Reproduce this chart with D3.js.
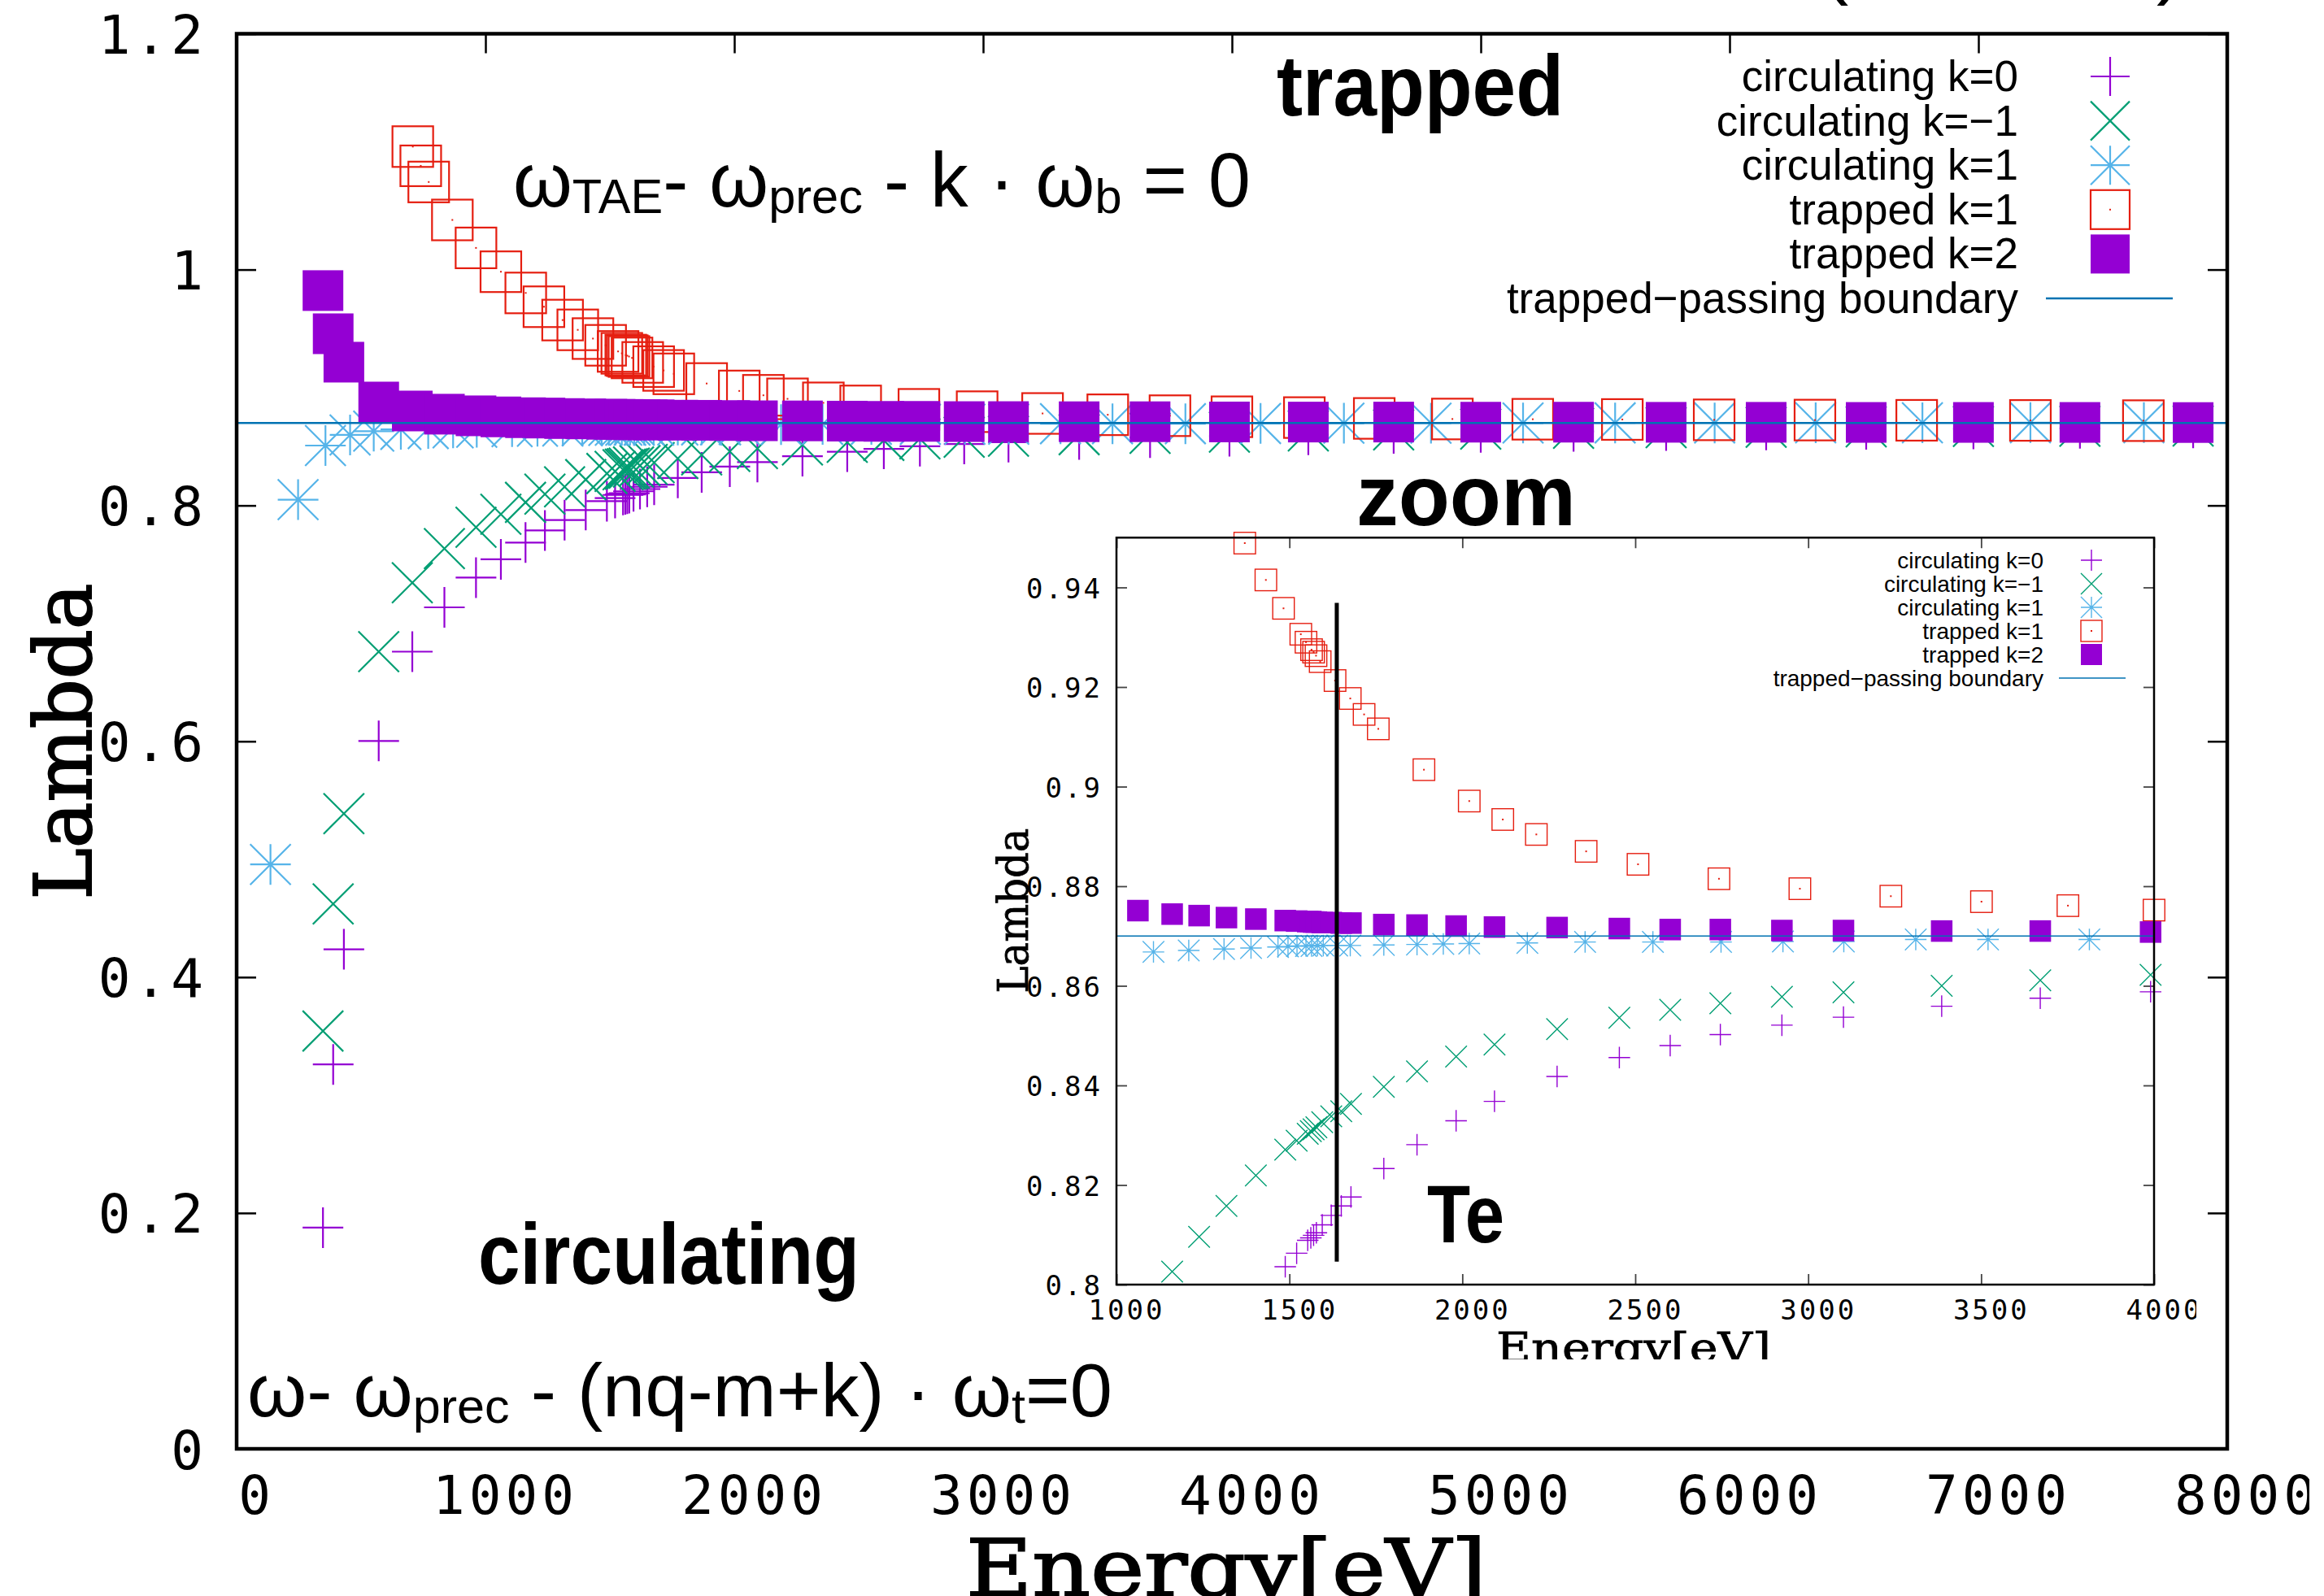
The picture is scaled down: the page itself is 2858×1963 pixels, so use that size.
<!DOCTYPE html>
<html><head><meta charset="utf-8">
<script src="https://cdn.jsdelivr.net/npm/d3@7"></script>
<style>body{margin:0;background:#fff} svg{display:block} text{white-space:pre}</style>
</head><body>
<svg id="c" width="2858" height="1963"></svg>
<script>
// ---------------- DATA ----------------
// Energy grid (eV) shared by circulating k=0, circulating k=-1 and trapped k=2
const gridEnergy = [347, 388, 431, 571, 706, 835, 962, 1062, 1161, 1239, 1318, 1403, 1488, 1521, 1553, 1562, 1570, 1578, 1595, 1621, 1650, 1678, 1773, 1869, 1982, 2093, 2274, 2454, 2601, 2746, 2924, 3102, 3386, 3671, 3990, 4307, 4650, 5000, 5373, 5745, 6147, 6549, 6980, 7408, 7863];
const circK0 = [0.1876, 0.326, 0.4236, 0.6003, 0.676, 0.7136, 0.7388, 0.7543, 0.7685, 0.7788, 0.7876, 0.7961, 0.8036, 0.8063, 0.8089, 0.8094, 0.8099, 0.8104, 0.8120, 0.8139, 0.8158, 0.8176, 0.8233, 0.8281, 0.8329, 0.8368, 0.8418, 0.8456, 0.8480, 0.8502, 0.8521, 0.8537, 0.8559, 0.8575, 0.8588, 0.8600, 0.8611, 0.8620, 0.8628, 0.8635, 0.8641, 0.8646, 0.8650, 0.8654, 0.8657];
const circKm1 = [0.3543, 0.4621, 0.5387, 0.6760, 0.7345, 0.7634, 0.7815, 0.7925, 0.8026, 0.8096, 0.8158, 0.8219, 0.8271, 0.8289, 0.8303, 0.8308, 0.8312, 0.8316, 0.8326, 0.8338, 0.8348, 0.8363, 0.8397, 0.8428, 0.8458, 0.8482, 0.8513, 0.8536, 0.8552, 0.8565, 0.8578, 0.8587, 0.8600, 0.8611, 0.8622, 0.8632, 0.8641, 0.8648, 0.8654, 0.8659, 0.8663, 0.8667, 0.8670, 0.8672, 0.8674];
const trapK2 = [0.9822, 0.9456, 0.9215, 0.8877, 0.8801, 0.8774, 0.8760, 0.8751, 0.8744, 0.8741, 0.8737, 0.8734, 0.8731, 0.8730, 0.8729, 0.8729, 0.8728, 0.8728, 0.8727, 0.8727, 0.8726, 0.8726, 0.8723, 0.8722, 0.8720, 0.8718, 0.8717, 0.8715, 0.8713, 0.8713, 0.8711, 0.8711, 0.8710, 0.8710, 0.8708, 0.8707, 0.8707, 0.8706, 0.8706, 0.8705, 0.8705, 0.8704, 0.8704, 0.8704, 0.8703];
// circulating k=1
const circK1Energy = [136, 247, 357, 456, 551, 660, 770, 870, 965, 1107, 1209, 1311, 1389, 1467, 1496, 1522, 1548, 1564, 1581, 1598, 1638, 1676, 1773, 1869, 1945, 2020, 2188, 2355, 2551, 2748, 2927, 3103, 3311, 3520, 3813, 4115, 4450, 4800, 5170, 5540, 5940, 6346, 6775, 7209, 7665];
const circK1 = [0.4956, 0.8049, 0.8508, 0.8598, 0.8630, 0.8645, 0.8652, 0.8658, 0.8663, 0.8668, 0.8671, 0.8674, 0.8676, 0.8678, 0.8679, 0.8680, 0.8680, 0.8680, 0.8681, 0.8681, 0.8681, 0.8681, 0.8682, 0.8683, 0.8684, 0.8685, 0.8686, 0.8688, 0.8688, 0.8688, 0.8689, 0.8689, 0.8693, 0.8693, 0.8693, 0.8695, 0.8697, 0.8698, 0.8699, 0.8700, 0.8700, 0.8701, 0.8701, 0.8702, 0.8702];
// trapped k=1
const trapK1Energy = [708, 740, 772, 867, 962, 1062, 1162, 1235, 1310, 1371, 1432, 1483, 1533, 1548, 1564, 1570, 1577, 1589, 1632, 1676, 1716, 1757, 1889, 2020, 2117, 2214, 2358, 2508, 2742, 2976, 3239, 3501, 3751, 4000, 4291, 4572, 4886, 5209, 5569, 5938, 6343, 6752, 7209, 7663];
const trapK1 = [1.1043, 1.0880, 1.0743, 1.0421, 1.0184, 0.9982, 0.9802, 0.9685, 0.9572, 0.9489, 0.9415, 0.9358, 0.9306, 0.9290, 0.9275, 0.9270, 0.9263, 0.9251, 0.9213, 0.9177, 0.9145, 0.9116, 0.9034, 0.8971, 0.8934, 0.8904, 0.8870, 0.8844, 0.8815, 0.8795, 0.8780, 0.8769, 0.8761, 0.8752, 0.8745, 0.8738, 0.8733, 0.8731, 0.8729, 0.8726, 0.8724, 0.8722, 0.8721, 0.8719];
const boundaryLambda = 0.87;
const teEnergy = 1637;
const teLambdaRange = [0.8046, 0.9369];
const legendLabels = ["circulating k=0", "circulating k=\u22121", "circulating k=1", "trapped k=1", "trapped k=2", "trapped\u2212passing boundary"];
const mainXTicks = [0, 1000, 2000, 3000, 4000, 5000, 6000, 7000, 8000];
const mainYTicks = [0, 0.2, 0.4, 0.6, 0.8, 1.0, 1.2];
const insetXTicks = [1000, 1500, 2000, 2500, 3000, 3500, 4000];
const insetYTicks = [0.8, 0.82, 0.84, 0.86, 0.88, 0.9, 0.92, 0.94];
const mainXDomain = [0, 8000], mainYDomain = [0, 1.2];
const insetXDomain = [1000, 4000], insetYDomain = [0.8, 0.95];

// ---------------- SETUP ----------------
const svg = d3.select('#c');
svg.append('rect').attr('width', 2858).attr('height', 1963).attr('fill', '#fff');
const defs = svg.append('defs');
defs.append('clipPath').attr('id', 'clipMainLabels').append('rect').attr('x', 0).attr('y', 0).attr('width', 2840).attr('height', 1963);
defs.append('clipPath').attr('id', 'clipInset').append('rect').attr('x', 1100).attr('y', 600).attr('width', 1601).attr('height', 1072);

const series = [
  {label: legendLabels[0], E: gridEnergy, L: circK0, shape: 'plus', color: '#9400d3'},
  {label: legendLabels[1], E: gridEnergy, L: circKm1, shape: 'cross', color: '#009e73'},
  {label: legendLabels[2], E: circK1Energy, L: circK1, shape: 'star', color: '#56b4e9'},
  {label: legendLabels[3], E: trapK1Energy, L: trapK1, shape: 'box', color: '#e51e10'},
  {label: legendLabels[4], E: gridEnergy, L: trapK2, shape: 'filled', color: '#9400d3'}
];
const boundaryColor = '#0072b2';

function shapePath(shape, h) {
  const p = `M${-h},0H${h}M0,${-h}V${h}`;
  const xx = `M${-h},${-h}L${h},${h}M${-h},${h}L${h},${-h}`;
  if (shape === 'plus') return p;
  if (shape === 'cross') return xx;
  if (shape === 'star') return p + xx;
  return '';
}

function drawSymbols(g, shape, color, pts, size, sw) {
  const h = size / 2;
  if (shape === 'filled') {
    g.selectAll(null).data(pts).join('rect')
      .attr('x', d => d[0] - h).attr('y', d => d[1] - h)
      .attr('width', size).attr('height', size).attr('fill', color);
  } else if (shape === 'box') {
    g.selectAll(null).data(pts).join('rect')
      .attr('x', d => d[0] - h).attr('y', d => d[1] - h)
      .attr('width', size).attr('height', size)
      .attr('fill', 'none').attr('stroke', color).attr('stroke-width', sw);
    g.selectAll(null).data(pts).join('rect')
      .attr('x', d => d[0] - 1).attr('y', d => d[1] - 1)
      .attr('width', 2).attr('height', 2).attr('fill', color);
  } else {
    g.selectAll(null).data(pts).join('path')
      .attr('d', shapePath(shape, h))
      .attr('transform', d => `translate(${d[0]},${d[1]})`)
      .attr('fill', 'none').attr('stroke', color).attr('stroke-width', sw);
  }
}

function fitWidth(sel, x0, target) {
  const w = sel.node().getBBox().width;
  const s = target / w;
  sel.attr('transform', `translate(${x0},0) scale(${s},1) translate(${-x0},0)`);
}

function richText(parent, x, y, parts, size, subSize, subDy, weight) {
  const t = parent.append('text').attr('x', x).attr('y', y)
    .attr('font-family', 'Liberation Sans').attr('font-size', size)
    .attr('font-weight', weight || 'normal').attr('fill', '#000');
  let cur = 0;
  parts.forEach(([s, sub]) => {
    const target = sub ? subDy : 0;
    t.append('tspan').attr('font-size', sub ? subSize : size).attr('dy', target - cur).text(s);
    cur = target;
  });
  return t;
}

function plotSeries(g, xs, ys, size, sw, xdom, ydom) {
  series.forEach(s => {
    const pts = s.E.map((e, i) => [e, s.L[i]])
      .filter(d => d[0] >= xdom[0] && d[0] <= xdom[1] && d[1] >= ydom[0] && d[1] <= ydom[1])
      .map(d => [xs(d[0]), ys(d[1])]);
    drawSymbols(g.append('g'), s.shape, s.color, pts, size, sw);
  });
}

function axisTitle(parent, text, size, sw) {
  return parent.append('text').attr('font-family', 'DejaVu Serif').attr('font-weight', 'normal')
    .attr('font-size', size).attr('text-anchor', 'middle').attr('fill', '#000')
    .attr('stroke', '#000').attr('stroke-width', sw).text(text);
}

// ---------------- MAIN PLOT ----------------
const x = d3.scaleLinear().domain(mainXDomain).range([291, 2739]);
const y = d3.scaleLinear().domain(mainYDomain).range([1782, 41.5]);
const main = svg.append('g');

plotSeries(main, x, y, 50, 2.2, mainXDomain, mainYDomain);
main.append('line').attr('x1', x(mainXDomain[0])).attr('x2', x(mainXDomain[1]))
  .attr('y1', y(boundaryLambda)).attr('y2', y(boundaryLambda))
  .attr('stroke', boundaryColor).attr('stroke-width', 2.5);

const tickFmtMain = d => String(+d.toFixed(1));
const gxb = main.append('g').attr('transform', `translate(0,${y(0)})`).attr('clip-path', 'url(#clipMainLabels)')
  .call(d3.axisBottom(x).tickValues(mainXTicks).tickSizeInner(-24).tickSizeOuter(0).tickFormat(d3.format('d')));
const gxt = main.append('g').attr('transform', `translate(0,${y(1.2)})`)
  .call(d3.axisTop(x).tickValues(mainXTicks).tickSizeInner(-24).tickSizeOuter(0).tickFormat(''));
const gyl = main.append('g').attr('transform', `translate(${x(0)},0)`)
  .call(d3.axisLeft(y).tickValues(mainYTicks).tickSizeInner(-24).tickSizeOuter(0).tickFormat(tickFmtMain));
const gyr = main.append('g').attr('transform', `translate(${x(8000)},0)`)
  .call(d3.axisRight(y).tickValues(mainYTicks).tickSizeInner(-24).tickSizeOuter(0).tickFormat(''));
[gxb, gxt, gyl, gyr].forEach(g => {
  g.select('.domain').remove();
  g.selectAll('line').attr('stroke', '#000').attr('stroke-width', 2.5);
});
gxb.selectAll('text').attr('font-family', 'DejaVu Sans Mono').attr('font-size', 66)
  .attr('letter-spacing', 5).attr('fill', '#000').attr('dy', 0).attr('y', 80).attr('x', 24);
gyl.selectAll('text').attr('font-family', 'DejaVu Sans Mono').attr('font-size', 66)
  .attr('letter-spacing', 5).attr('fill', '#000').attr('dy', 24).attr('x', -36);

main.append('rect').attr('x', x(0)).attr('y', y(1.2)).attr('width', x(8000) - x(0)).attr('height', y(0) - y(1.2))
  .attr('fill', 'none').attr('stroke', '#000').attr('stroke-width', 4.5);

// axis titles
const lamMain = axisTitle(main, 'Lambda', 97, 2);
{
  const w = lamMain.node().getBBox().width;
  lamMain.attr('transform', `translate(112,912) rotate(-90) scale(${389 / w},1)`);
}
const enMain = axisTitle(main, 'Energy[eV]', 97, 2);
{
  const w = enMain.node().getBBox().width;
  enMain.attr('transform', `translate(1508,1963) scale(${640 / w},1)`);
}

// legend (main)
const legMain = main.append('g');
series.forEach((s, i) => {
  const cy = 94 + i * 54.6;
  legMain.append('text').attr('x', 2482).attr('y', cy + 18).attr('text-anchor', 'end')
    .attr('font-family', 'Liberation Sans').attr('font-size', 53).attr('fill', '#000').text(s.label);
  drawSymbols(legMain.append('g'), s.shape, s.color, [[2595, cy]], 48, 2.2);
});
{
  const cy = 94 + 5 * 54.6;
  legMain.append('text').attr('x', 2482).attr('y', cy + 18).attr('text-anchor', 'end')
    .attr('font-family', 'Liberation Sans').attr('font-size', 53).attr('fill', '#000').text(legendLabels[5]);
  legMain.append('line').attr('x1', 2516).attr('x2', 2672).attr('y1', cy).attr('y2', cy)
    .attr('stroke', boundaryColor).attr('stroke-width', 2.5);
}

// annotations
const tTrapped = main.append('text').attr('x', 1570).attr('y', 142).attr('font-family', 'Liberation Sans')
  .attr('font-weight', 'bold').attr('font-size', 106).attr('fill', '#000').text('trapped');
fitWidth(tTrapped, 1570, 353);
const tZoom = main.append('text').attr('x', 1668).attr('y', 646).attr('font-family', 'Liberation Sans')
  .attr('font-weight', 'bold').attr('font-size', 106).attr('fill', '#000').text('zoom');
fitWidth(tZoom, 1668, 270);
const tCirc = main.append('text').attr('x', 588).attr('y', 1579).attr('font-family', 'Liberation Sans')
  .attr('font-weight', 'bold').attr('font-size', 106).attr('fill', '#000').text('circulating');
fitWidth(tCirc, 588, 469);
const f1 = richText(main, 631, 254, [['\u03c9', 0], ['TAE', 1], ['- \u03c9', 0], ['prec', 1], [' - k \u00b7 \u03c9', 0], ['b', 1], [' = 0', 0]], 94, 60, 8);
fitWidth(f1, 631, 907);
const f2 = richText(main, 304, 1742, [['\u03c9- \u03c9', 0], ['prec', 1], [' - (nq-m+k) \u00b7 \u03c9', 0], ['t', 1], ['=0', 0]], 92, 60, 8);
fitWidth(f2, 304, 1064);
// cut-off title brackets at top edge
main.append('text').attr('x', 2240).attr('y', -14).attr('font-family', 'Liberation Sans').attr('font-size', 100).text('(');
main.append('text').attr('x', 2652).attr('y', -14).attr('font-family', 'Liberation Sans').attr('font-size', 100).text(')');

// ---------------- INSET ----------------
const xi = d3.scaleLinear().domain(insetXDomain).range([1373, 2649]);
const yi = d3.scaleLinear().domain(insetYDomain).range([1580, 661.25]);
const inset = svg.append('g').attr('clip-path', 'url(#clipInset)');

const ixb = inset.append('g').attr('transform', `translate(0,${yi(0.8)})`)
  .call(d3.axisBottom(xi).tickValues(insetXTicks).tickSizeInner(-13).tickSizeOuter(0).tickFormat(d3.format('d')));
const ixt = inset.append('g').attr('transform', `translate(0,${yi(0.95)})`)
  .call(d3.axisTop(xi).tickValues(insetXTicks).tickSizeInner(-13).tickSizeOuter(0).tickFormat(''));
const iyl = inset.append('g').attr('transform', `translate(${xi(1000)},0)`)
  .call(d3.axisLeft(yi).tickValues(insetYTicks).tickSizeInner(-13).tickSizeOuter(0).tickFormat(d => String(+d.toFixed(2))));
const iyr = inset.append('g').attr('transform', `translate(${xi(4000)},0)`)
  .call(d3.axisRight(yi).tickValues(insetYTicks).tickSizeInner(-13).tickSizeOuter(0).tickFormat(''));
[ixb, ixt, iyl, iyr].forEach(g => {
  g.select('.domain').remove();
  g.selectAll('line').attr('stroke', '#444').attr('stroke-width', 1.8);
});
ixb.selectAll('text').attr('font-family', 'DejaVu Sans Mono').attr('font-size', 34)
  .attr('letter-spacing', 3).attr('fill', '#000').attr('dy', 0).attr('y', 43).attr('x', 12);
iyl.selectAll('text').attr('font-family', 'DejaVu Sans Mono').attr('font-size', 34)
  .attr('letter-spacing', 3).attr('fill', '#000').attr('dy', 12.5).attr('x', -17);

plotSeries(inset, xi, yi, 26.5, 1.4, insetXDomain, insetYDomain);
inset.append('line').attr('x1', xi(1000)).attr('x2', xi(4000))
  .attr('y1', yi(boundaryLambda)).attr('y2', yi(boundaryLambda))
  .attr('stroke', boundaryColor).attr('stroke-width', 1.6);

inset.append('rect').attr('x', xi(1000)).attr('y', yi(0.95)).attr('width', xi(4000) - xi(1000)).attr('height', yi(0.8) - yi(0.95))
  .attr('fill', 'none').attr('stroke', '#000').attr('stroke-width', 2.5);

// Te line
inset.append('line').attr('x1', xi(teEnergy)).attr('x2', xi(teEnergy))
  .attr('y1', yi(teLambdaRange[0])).attr('y2', yi(teLambdaRange[1]))
  .attr('stroke', '#000').attr('stroke-width', 5);
const tTe = inset.append('text').attr('x', 1755).attr('y', 1528).attr('font-family', 'Liberation Sans')
  .attr('font-weight', 'bold').attr('font-size', 100).attr('fill', '#000').text('Te');
fitWidth(tTe, 1755, 95);

// inset legend
const legIn = inset.append('g');
series.forEach((s, i) => {
  const cy = 689 + i * 29;
  legIn.append('text').attr('x', 2513).attr('y', cy + 10).attr('text-anchor', 'end')
    .attr('font-family', 'Liberation Sans').attr('font-size', 28).attr('fill', '#000').text(s.label);
  drawSymbols(legIn.append('g'), s.shape, s.color, [[2572, cy]], 26, 1.4);
});
{
  const cy = 689 + 5 * 29;
  legIn.append('text').attr('x', 2513).attr('y', cy + 10).attr('text-anchor', 'end')
    .attr('font-family', 'Liberation Sans').attr('font-size', 28).attr('fill', '#000').text(legendLabels[5]);
  legIn.append('line').attr('x1', 2532).attr('x2', 2614).attr('y1', cy).attr('y2', cy)
    .attr('stroke', boundaryColor).attr('stroke-width', 1.6);
}

// inset axis titles
const lamIn = axisTitle(inset, 'Lambda', 53, 0.8);
{
  const w = lamIn.node().getBBox().width;
  lamIn.attr('transform', `translate(1264,1120) rotate(-90) scale(${203 / w},1)`);
}
const enIn = axisTitle(inset, 'Energy[eV]', 51, 0.8);
{
  const w = enIn.node().getBBox().width;
  enIn.attr('transform', `translate(2009,1675) scale(${338 / w},1)`);
}
</script>
</body></html>
